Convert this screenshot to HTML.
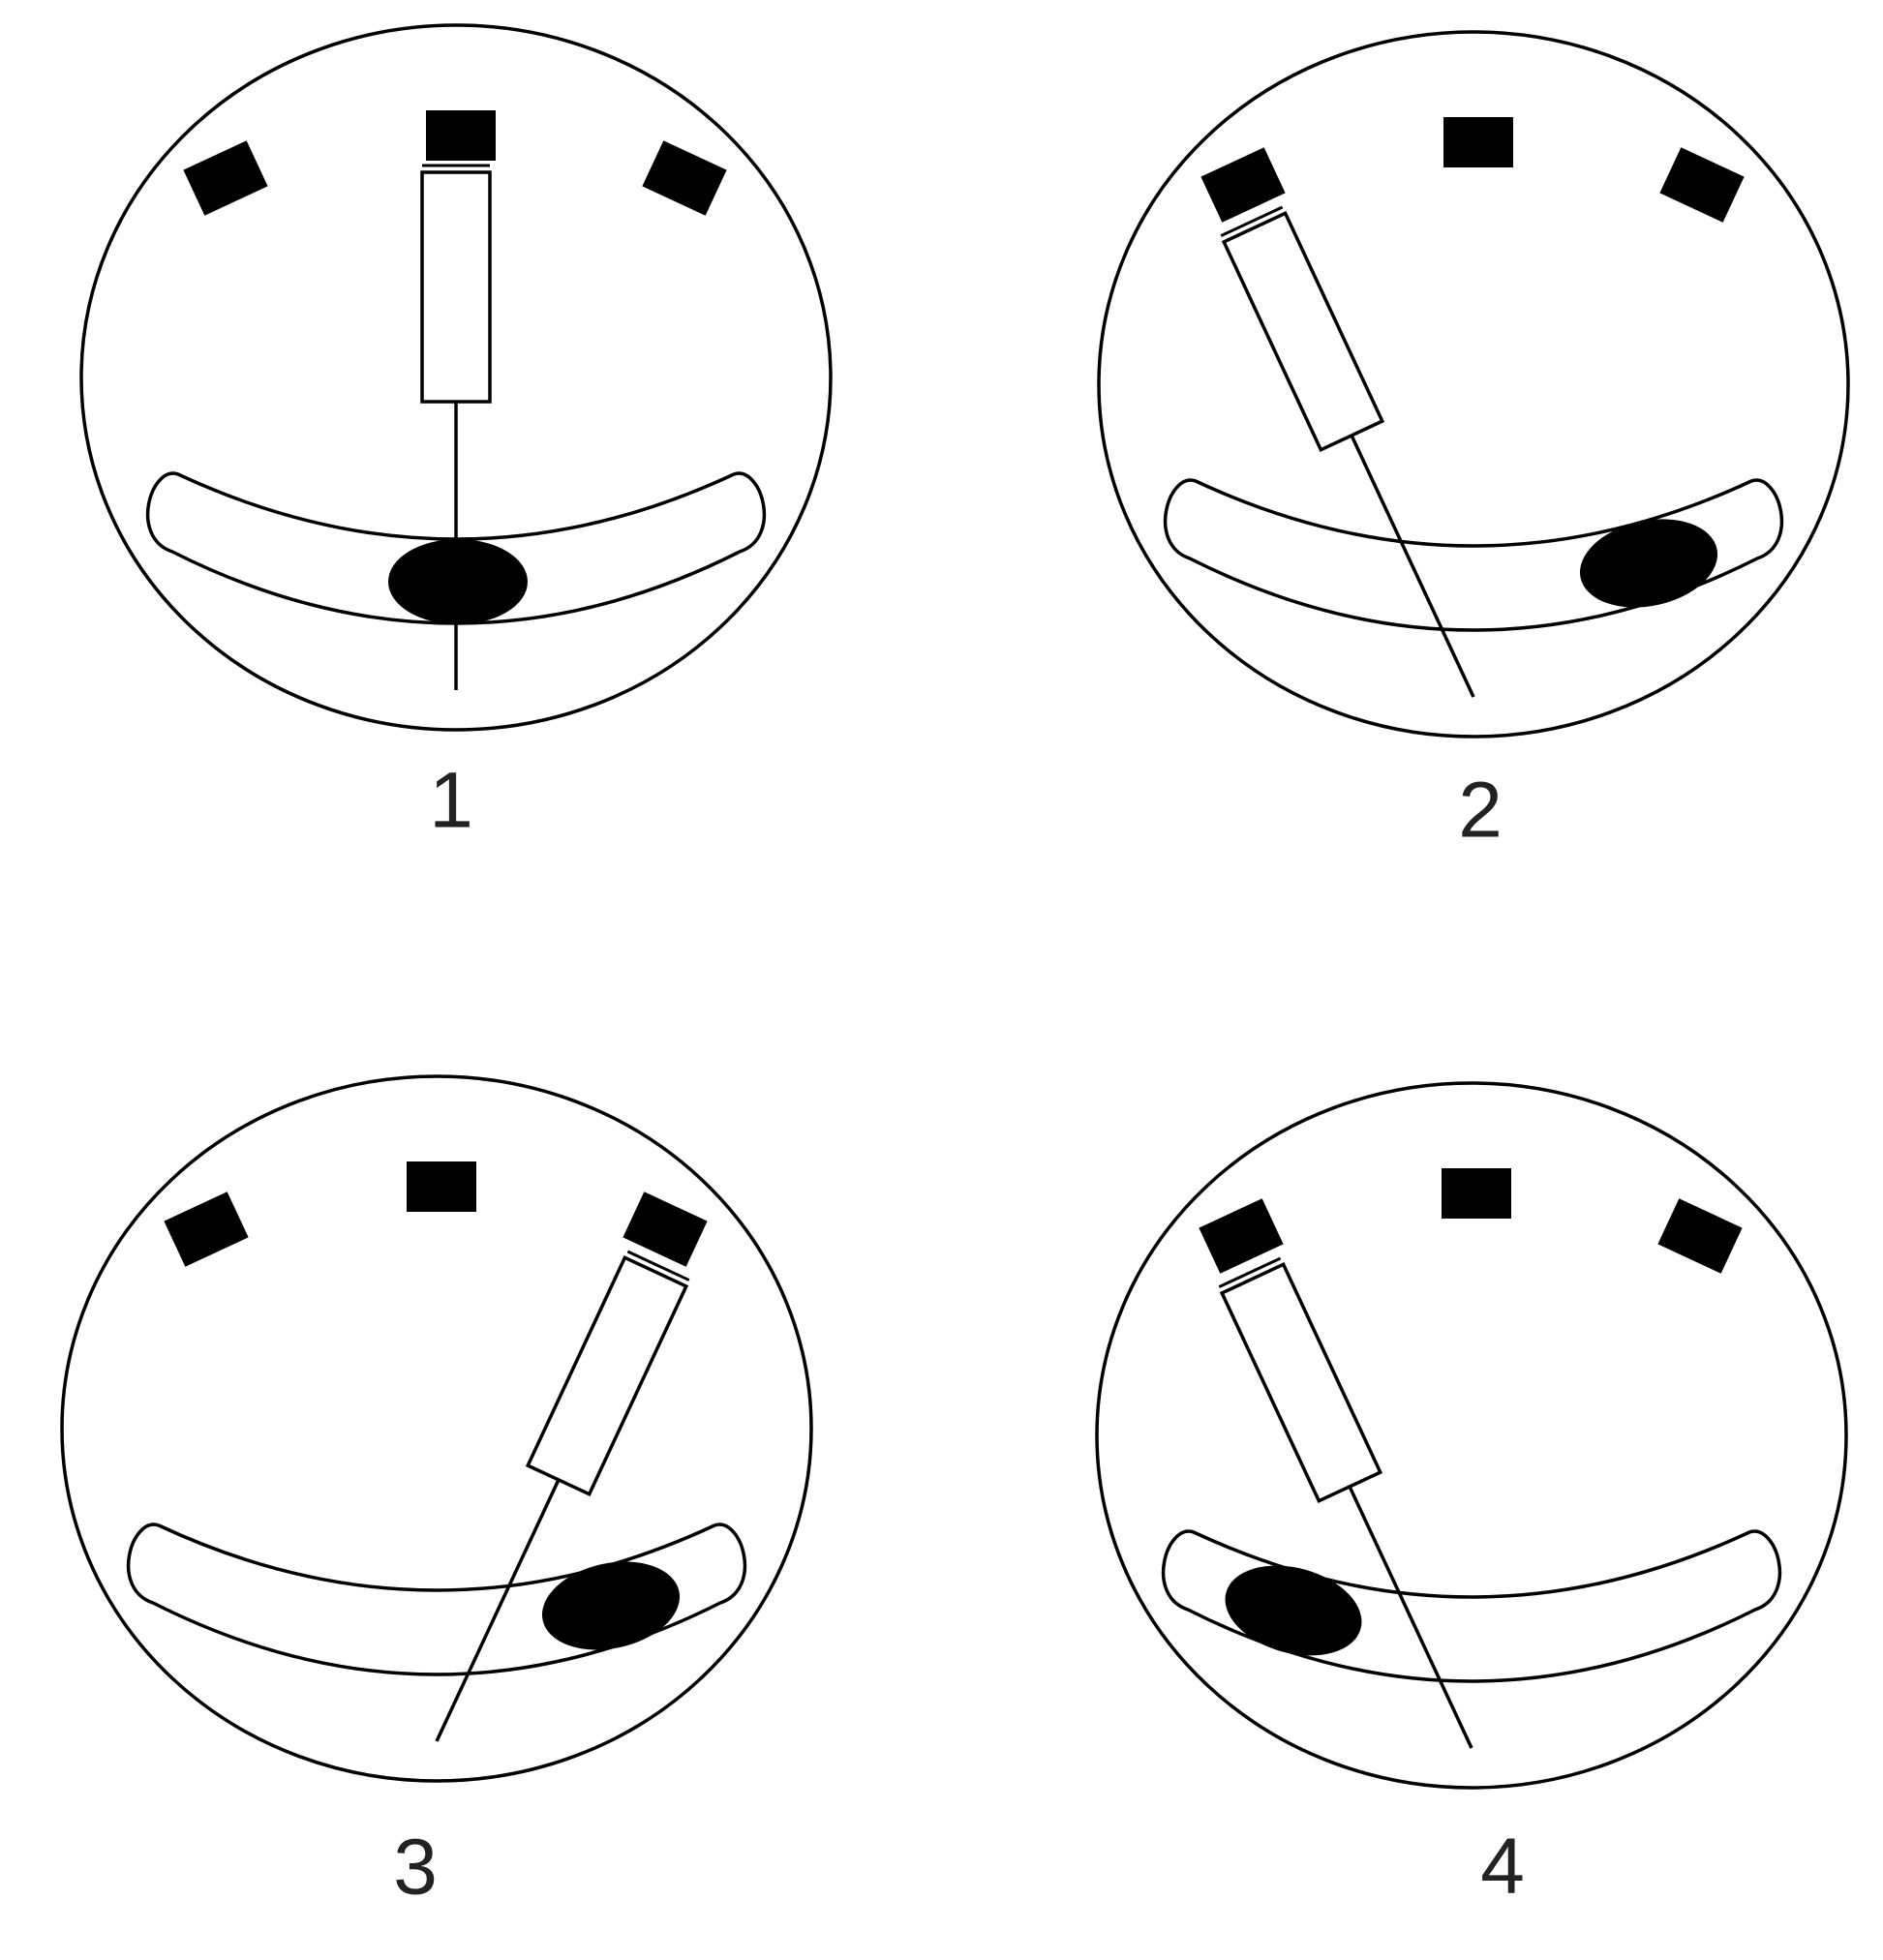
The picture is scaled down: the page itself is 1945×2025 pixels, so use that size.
<!DOCTYPE html>
<html><head><meta charset="utf-8"><style>
html,body{margin:0;padding:0;background:#fff;}
svg{display:block;}
</style></head><body>
<svg id="fig" width="1945" height="2025" viewBox="0 0 1945 2025" xmlns="http://www.w3.org/2000/svg"></svg>
<script>
const panelLabels = ["1","2","3","4"];
const panelCenterX = [471, 1522, 451, 1520];
const panelCenterY = [390, 397, 1476, 1483];
const syringeAngle = [0, -25, 25, -25];
const blobX = [2, 181, 180, -184];
const blobY = [211, 185, 183, 181];
const blobTilt = [0, -12, -12, 15];
const labelX = [466, 1529, 429, 1552];
const labelY = [827, 837, 1929, 1928];

const NS = "http://www.w3.org/2000/svg";
const svg = document.getElementById('fig');
function mk(tag, attrs, parent){
  const e = document.createElementNS(NS, tag);
  for (const k in attrs) e.setAttribute(k, attrs[k]);
  parent.appendChild(e);
  return e;
}
for (let i = 0; i < panelLabels.length; i++){
  const g = mk('g', {transform: `translate(${panelCenterX[i]},${panelCenterY[i]})`}, svg);
  
  
  const c = mk('ellipse', {cx:0, cy:0, rx:387, ry:364, fill:'#fff', stroke:'#000', 'stroke-width':3.5}, g);
  
  
  const sq = [[-238,-206,-25],[5,-250,0],[236,-206,25]];
  for (let j = 0; j < 3; j++){
    const s = mk('rect', {x:-36, y:-26, width:72, height:52, fill:'#000', transform:`translate(${sq[j][0]},${sq[j][1]}) rotate(${sq[j][2]})`}, g);
    
    
  }
  const band = mk('path', {d:'M -287,100 Q 0,234 287,100 C 315,90 338,165 293,180 Q 0,328 -293,180 C -338,165 -315,90 -287,100 Z', fill:'#fff', stroke:'#000', 'stroke-width':3.5}, g);
  
  
  const blob = mk('ellipse', {cx:0, cy:0, rx:72, ry:44, fill:'#000', transform:`translate(${blobX[i]},${blobY[i]}) rotate(${blobTilt[i]})`}, g);
  
  
  const sy = mk('g', {transform:`rotate(${syringeAngle[i]},0,323)`}, g);
  
  
  mk('line', {x1:0, y1:25, x2:0, y2:323, stroke:'#000', 'stroke-width':3.5}, sy);
  mk('rect', {x:-35, y:-212, width:70, height:237, fill:'#fff', stroke:'#000', 'stroke-width':3.5}, sy);
  mk('line', {x1:-35, y1:-219, x2:35, y2:-219, stroke:'#000', 'stroke-width':3}, sy);
  const t = mk('text', {x:labelX[i], y:labelY[i], 'text-anchor':'middle', 'dominant-baseline':'central', 'font-family':'Liberation Sans, sans-serif', 'font-size':82, fill:'#222'}, svg);
  t.textContent = panelLabels[i];
  
  
}
</script>
</body></html>
